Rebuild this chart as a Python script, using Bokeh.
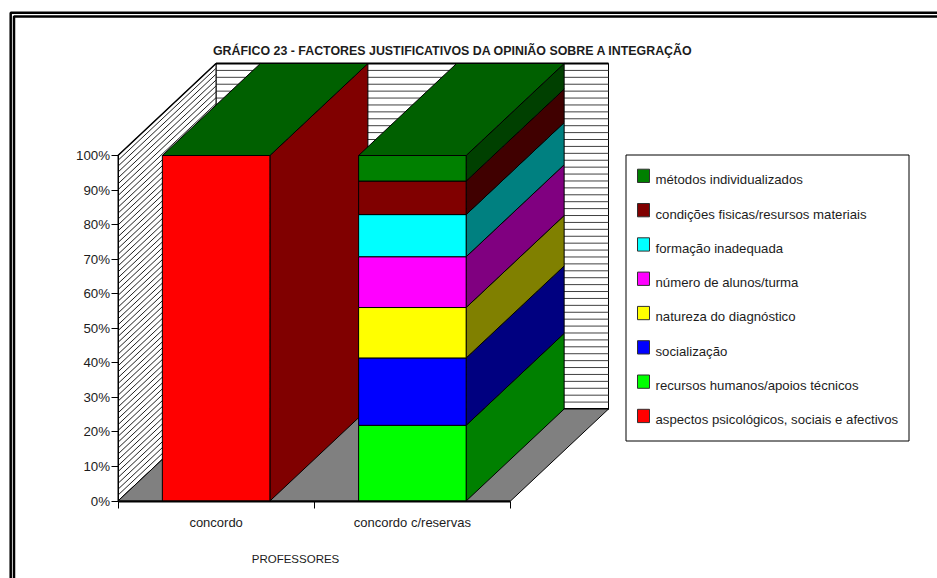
from bokeh.embed import file_html
from bokeh.resources import INLINE
from bokeh.plotting import figure
from bokeh.core.properties import value
from bokeh.models import FixedTicker, PrintfTickFormatter, Label
import numpy as np

categories = ["concordo", "concordo c/reservas"]
series_names = ["aspectos psicológicos, sociais e afectivos", "recursos humanos/apoios técnicos",
                "socialização", "natureza do diagnóstico", "número de alunos/turma",
                "formação inadequada", "condições fisicas/resursos materiais", "métodos individualizados"]
aspectos = [100.0, 0.0]
recursos = [0.0, 21.9]
socializacao = [0.0, 19.5]
natureza = [0.0, 14.6]
numero = [0.0, 14.7]
formacao = [0.0, 12.2]
condicoes = [0.0, 9.7]
metodos = [0.0, 7.4]
all_series = [aspectos, recursos, socializacao, natureza, numero, formacao, condicoes, metodos]
y_ticks = [0, 10, 20, 30, 40, 50, 60, 70, 80, 90, 100]

front_colors = ["#ff0000", "#00ff00", "#0000ff", "#ffff00", "#ff00ff", "#00ffff", "#800000", "#008000"]
side_colors = ["#800000", "#008000", "#000080", "#808000", "#800080", "#008080", "#400000", "#004000"]
top_color = "#006000"
TXT = "#1c1c1c"

W, H = 937, 578
PX0, PY0 = 117.5, 500.5
UX, UY = 196.25, 3.455
DX, DY = 98 / UX, 92 / UY
BW = 0.548

p = figure(width=W, height=H, output_backend="svg", toolbar_location=None, min_border=0,
           x_range=(-PX0 / UX, (W - PX0) / UX), y_range=((PY0 - H) / UY, PY0 / UY),
           background_fill_color="white", border_fill_color="white", outline_line_color=None)
p.grid.visible = False

def sx(px):
    return (px - PX0) / UX
def sy(py):
    return (PY0 - py) / UY

# outer double frame
for fx, fy in ((10.2, 12.3), (13.5, 16.0)):
    p.line([sx(fx), sx(fx), sx(W + 20)], [sy(H + 20), sy(fy), sy(fy)], line_color="black", line_width=2.5)

# back wall and its stripes
p.patch([DX, 2 + DX, 2 + DX, DX], [DY, DY, 100 + DY, 100 + DY], fill_color="white", line_color="black", line_width=1)
lev = np.arange(0, 100.1, 2.0) + DY
p.multi_line([[DX, 2 + DX]] * len(lev), [[v, v] for v in lev], line_color="#404040", line_width=1)
p.line([DX, 2 + DX], [100 + DY, 100 + DY], line_color="black", line_width=2)
p.line([DX, 2 + DX], [DY, DY], line_color="black", line_width=2)

# left wall and its hatching
p.patch([0, DX, DX, 0], [0, DY, 100 + DY, 100], fill_color="white", line_color="black", line_width=1)
lev = np.arange(0, 100.1, 1.7)
p.multi_line([[0, DX]] * len(lev), [[v, v + DY] for v in lev], line_color="#202020", line_width=1)
p.line([0, DX], [100, 100 + DY], line_color="black", line_width=1.5)

# floor
p.patch([0, 2, 2 + DX, DX], [0, 0, DY, DY], fill_color="#808080", line_color="black", line_width=1)

for c in range(len(categories)):
    x0, x1 = c + 0.5 - BW / 2, c + 0.5 + BW / 2
    base = 0.0
    for i, s in enumerate(all_series):
        b, t = base, base + s[c]
        base = t
        if s[c] > 0:
            p.patch([x1, x1 + DX, x1 + DX, x1], [b, b + DY, t + DY, t], fill_color=side_colors[i], line_color="black", line_width=1)
    p.patch([x0, x1, x1 + DX, x0 + DX], [base, base, base + DY, base + DY], fill_color=top_color, line_color="black", line_width=1)
    base = 0.0
    for i, s in enumerate(all_series):
        b, t = base, base + s[c]
        base = t
        if s[c] > 0:
            p.quad(left=[x0], right=[x1], bottom=[b], top=[t], fill_color=front_colors[i], line_color="black", line_width=1)

# axes
ya = p.yaxis[0]
ya.fixed_location = 0
ya.bounds = (0, 100)
ya.ticker = FixedTicker(ticks=y_ticks)
ya.formatter = PrintfTickFormatter(format="%d%%")
ya.major_tick_in = 0
ya.major_tick_out = 7
ya.minor_tick_line_color = None
ya.major_label_standoff = 1
ya.major_label_text_font = "Liberation Sans"
ya.major_label_text_font_size = "13.3px"
ya.major_label_text_color = TXT
ya.axis_line_color = "black"

xa = p.xaxis[0]
xa.fixed_location = 0
xa.bounds = (0, 2)
xa.ticker = FixedTicker(ticks=[0.5, 1.5], minor_ticks=[0, 1, 2])
xa.major_label_overrides = {0.5: categories[0], 1.5: categories[1]}
xa.major_tick_line_color = None
xa.major_tick_in = 0
xa.major_tick_out = 0
xa.minor_tick_in = 0
xa.minor_tick_out = 7
xa.minor_tick_line_color = "black"
xa.axis_line_color = "black"
xa.axis_line_width = 2
xa.major_label_standoff = 7
xa.major_label_text_font = "Liberation Sans"
xa.major_label_text_font_size = "13px"
xa.major_label_text_color = TXT

p.add_layout(Label(x=sx(452.5), y=sy(50), text="GRÁFICO 23 - FACTORES JUSTIFICATIVOS DA OPINIÃO SOBRE A INTEGRAÇÃO",
                   text_align="center", text_baseline="middle", text_font="Liberation Sans",
                   text_font_size="12.4px", text_font_style="bold", text_color=TXT))
p.add_layout(Label(x=sx(295), y=sy(558), text="PROFESSORES", text_align="center", text_baseline="middle",
                   text_font="Liberation Sans", text_font_size="11.5px", text_color=TXT))

# legend, top entry first
p.quad(left=[sx(625.5)], right=[sx(908.5)], top=[sy(154.5)], bottom=[sy(440.5)], fill_color="white", line_color="black", line_width=1)
for row, i in enumerate(range(7, -1, -1)):
    ytop = 168.7 + row * 34.3
    p.quad(left=[sx(637)], right=[sx(649)], top=[sy(ytop)], bottom=[sy(ytop + 13.3)],
           fill_color=front_colors[i], line_color="#303030", line_width=1)
    p.text(x=[sx(655)], y=[sy(ytop + 10.5)], text=[series_names[i]], text_align="left", text_baseline="middle",
           text_font=value("Liberation Sans"), text_font_size="13.2px", text_color=TXT)

open("out.html", "w").write(file_html(p, INLINE))
